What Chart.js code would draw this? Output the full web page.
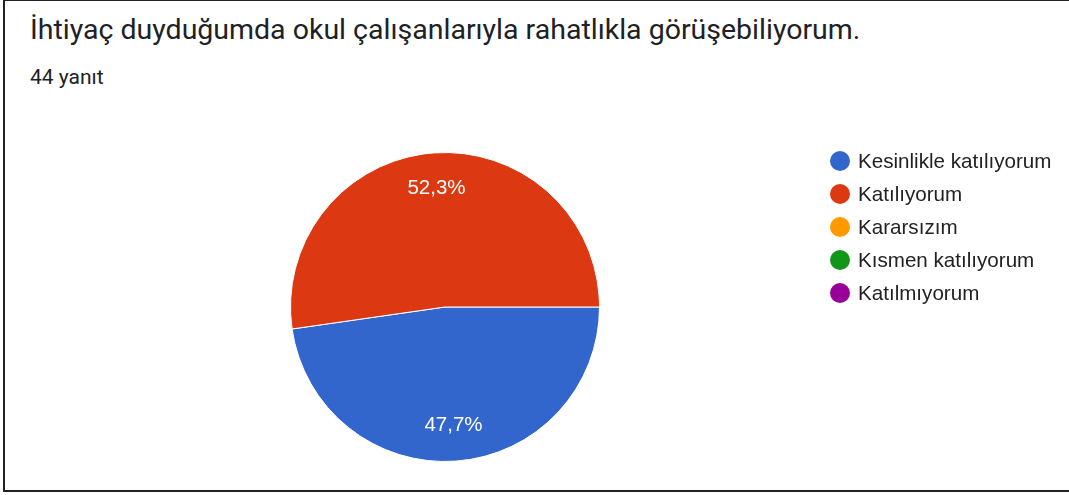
<!DOCTYPE html>
<html>
<head>
  <title>İhtiyaç duyduğumda okul çalışanlarıyla rahatlıkla görüşebiliyorum.</title>
  <script src="https://cdn.jsdelivr.net/npm/chart.js"></script>
  <style>
    html, body { margin: 0; padding: 0; background: #fff; }
    body { width: 1069px; height: 495px; position: relative; overflow: hidden; }
    #frame {
      position: absolute;
      left: 3px; top: 0; width: 1080px; height: 489px;
      border-left: 2px solid #222;
      border-top: 1px solid #222;
      border-bottom: 2px solid #222;
    }
    h1 {
      position: absolute; left: 30px; top: 13px; margin: 0;
      font-family: Roboto, sans-serif; font-weight: 400; font-size: 28.5px;
      color: #202124; white-space: nowrap;
    }
    .sub {
      position: absolute; left: 30px; top: 65px;
      font-family: Roboto, sans-serif; font-size: 21px; color: #202124;
    }
    #chartBox { position: absolute; left: 0; top: 140px; width: 890px; height: 334px; }
    #legend {
      position: absolute; left: 830px; top: 144px;
      font-family: 'Liberation Sans', Arial, sans-serif; font-size: 20.6px; color: #222;
    }
    .item { height: 33.2px; display: flex; align-items: center; white-space: nowrap; }
    .dot { width: 20px; height: 20px; border-radius: 50%; margin-right: 8px; }
  </style>
</head>
<body>
  <div id="frame"></div>
  <h1>İhtiyaç duyduğumda okul çalışanlarıyla rahatlıkla görüşebiliyorum.</h1>
  <div class="sub">44 yanıt</div>
  <div id="chartBox"><canvas id="pie"></canvas></div>
  <div id="legend"></div>

  <script>
    const answers = ['Kesinlikle katılıyorum', 'Katılıyorum', 'Kararsızım', 'Kısmen katılıyorum', 'Katılmıyorum'];
    const counts = [21, 23, 0, 0, 0];
    const colors = ['#3366cc', '#dc3912', '#ff9900', '#109618', '#990099'];

    const total = counts.reduce((a, b) => a + b, 0);

    // percent labels inside the slices
    const sliceLabels = {
      id: 'sliceLabels',
      afterDatasetsDraw(chart) {
        const ctx = chart.ctx;
        const meta = chart.getDatasetMeta(0);
        ctx.save();
        ctx.font = '20.5px "Liberation Sans", Arial, sans-serif';
        ctx.fillStyle = '#fff';
        ctx.textAlign = 'center';
        ctx.textBaseline = 'middle';
        meta.data.forEach((arc, i) => {
          if (!counts[i]) return;
          const mid = (arc.startAngle + arc.endAngle) / 2;
          const r = arc.outerRadius * 0.77;
          const pct = (counts[i] / total * 100).toFixed(1).replace('.', ',') + '%';
          ctx.fillText(pct, arc.x + Math.cos(mid) * r, arc.y + Math.sin(mid) * r);
        });
        ctx.restore();
      }
    };

    new Chart(document.getElementById('pie'), {
      type: 'pie',
      data: {
        labels: answers,
        datasets: [{
          data: counts,
          backgroundColor: colors,
          borderColor: '#fff',
          borderWidth: 1
        }]
      },
      options: {
        responsive: true,
        maintainAspectRatio: false,
        animation: false,
        rotation: 90,
        layout: { padding: 12 },
        plugins: {
          legend: { display: false },
          tooltip: { enabled: false }
        }
      },
      plugins: [sliceLabels]
    });

    // legend
    const legend = document.getElementById('legend');
    answers.forEach((a, i) => {
      const row = document.createElement('div');
      row.className = 'item';
      row.innerHTML = `<span class="dot" style="background:${colors[i]}"></span>${a}`;
      legend.appendChild(row);
    });
  </script>
</body>
</html>
